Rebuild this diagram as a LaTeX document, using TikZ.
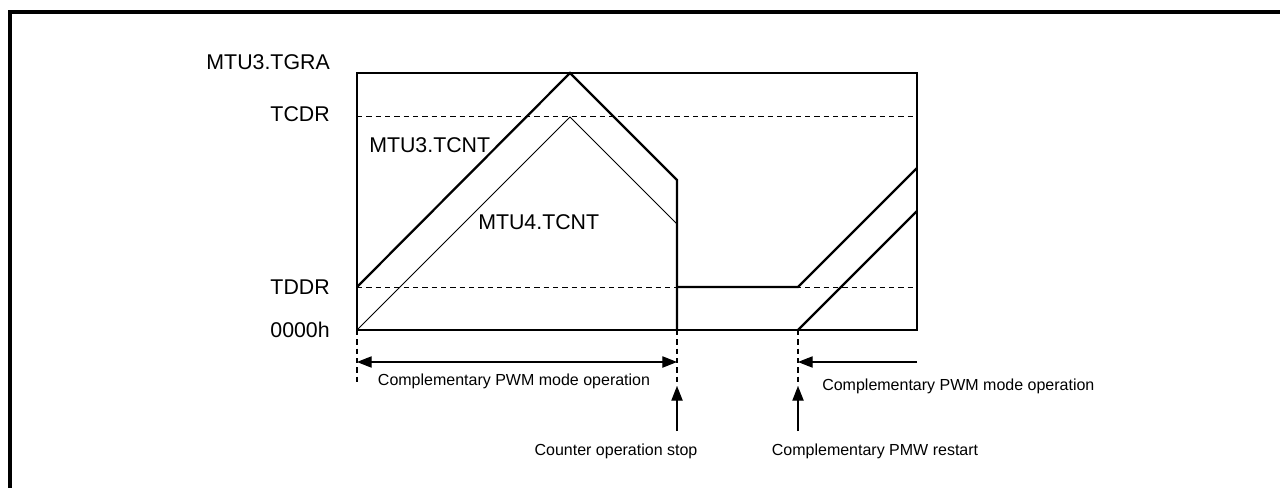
\documentclass[tikz,border=0pt]{standalone}
\usepackage{fontspec}
\setmainfont{Liberation Sans}
\usetikzlibrary{arrows.meta}
\begin{document}
\begin{tikzpicture}[x=0.75pt,y=-0.75pt,
  frame/.style={line width=2.5pt},
  plotbox/.style={line width=0.8pt},
  level/.style={line width=0.7pt, dash pattern=on 4pt off 3pt},
  cntthick/.style={line width=1.7pt, line join=miter},
  cntthin/.style={line width=0.7pt},
  guide/.style={line width=0.8pt, dash pattern=on 4pt off 3pt},
  marker/.style={line width=0.8pt, -{Triangle[length=11pt,width=8.5pt]}},
  dmarker/.style={line width=0.8pt, {Triangle[length=11pt,width=8.5pt]}-{Triangle[length=11pt,width=8.5pt]}},
  big/.style={font=\fontsize{16}{19}\selectfont, inner sep=0pt},
  small/.style={font=\fontsize{12}{14}\selectfont, inner sep=0pt}]
\useasboundingbox (0,0) rectangle (1280,488);
% outer frame (top and left edges)
\coordinate (fb) at (10,500);
\coordinate (fc) at (10,12);
\coordinate (fr) at (1295,12);
\draw[frame] (fb) -- (fc) -- (fr);
% plot box
\coordinate (o) at (357,330);
\coordinate (tl) at (357,73);
\coordinate (tr) at (917,73);
\coordinate (br) at (917,330);
\draw[plotbox] (tl) -- (tr) -- (br) -- (o) -- cycle;
% levels
\coordinate (cdrL) at (357,116);
\coordinate (cdrR) at (917,116);
\coordinate (ddrL) at (357,287);
\coordinate (ddrR) at (917,287);
\draw[level] (cdrL) -- (cdrR);
\draw[level] (ddrL) -- (ddrR);
% MTU3.TCNT
\coordinate (p3peak) at (570,73);
\coordinate (p3down) at (677,180);
\coordinate (stopB) at (677,330);
\coordinate (stopD) at (677,287);
\coordinate (restD) at (798,287);
\coordinate (p3end) at (917,168);
\draw[cntthick] (ddrL) -- (p3peak) -- (p3down) -- (stopB);
\draw[cntthick] (stopD) -- (restD) -- (p3end);
% MTU4.TCNT
\coordinate (p4peak) at (570,117);
\coordinate (p4down) at (677,224);
\coordinate (restB) at (798,330);
\coordinate (p4end) at (917,211);
\draw[cntthin] (o) -- (p4peak) -- (p4down);
\draw[cntthick] (restB) -- (p4end);
% guides
\coordinate (g1) at (357,384);
\coordinate (g2) at (677,386);
\coordinate (g3) at (798,386);
\draw[guide] (o) -- (g1);
\draw[guide] (stopB) -- (g2);
\draw[guide] (restB) -- (g3);
% arrows
\coordinate (a1L) at (357,362);
\coordinate (a1R) at (677,362);
\coordinate (a2R) at (917,362);
\coordinate (a2L) at (798,362);
\draw[dmarker] (a1L) -- (a1R);
\draw[marker] (a2R) -- (a2L);
\coordinate (s1) at (677,431);
\coordinate (s2) at (798,431);
\draw[marker] (s1) -- (g2);
\draw[marker] (s2) -- (g3);
% labels
\node[big, anchor=base east] (ltgra) at (330,70) {MTU3.TGRA};
\node[big, anchor=base east] (ltcdr) at (330,122) {TCDR};
\node[big, anchor=base east] (ltddr) at (330,294) {TDDR};
\node[big, anchor=base east] (lzero) at (330,337) {0000h};
\node[big, anchor=base west] (lcnt3) at (369,153) {MTU3.TCNT};
\node[big, anchor=base west] (lcnt4) at (478,229) {MTU4.TCNT};
\node[small, anchor=base] (lop1) at (514,385) {Complementary PWM mode operation};
\node[small, anchor=base west] (lop2) at (822,390) {Complementary PWM mode operation};
\node[small, anchor=base] (lstop) at (616,455) {Counter operation stop};
\node[small, anchor=base] (lrest) at (875,455) {Complementary PMW restart};
\end{tikzpicture}
\end{document}
